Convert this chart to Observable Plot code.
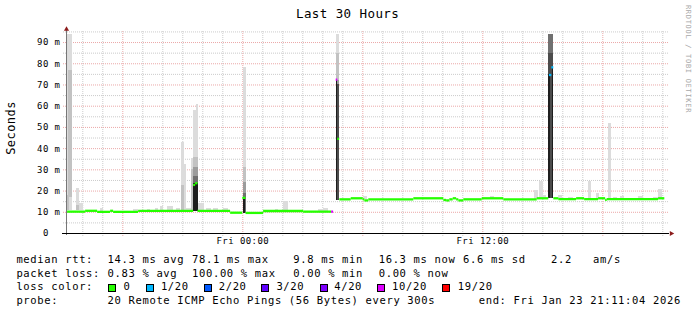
<!DOCTYPE html>
<html>
<head>
<meta charset="utf-8">
<script src="https://cdn.jsdelivr.net/npm/d3@7"></script>
<script src="https://cdn.jsdelivr.net/npm/@observablehq/plot@0.6"></script>
<style>
html, body { margin:0; padding:0; background:#fff; }
#wrap { width:697px; height:315px; overflow:hidden; background:#fff; }
#plot svg, #legend svg { display:block; }
#plot svg text { letter-spacing:0.45px; }
</style>
</head>
<body>
<div id="wrap"><div id="plot"></div><div id="legend"></div></div>
<script>
// ---------- texts ----------
const title = "Last 30 Hours";
const yAxisTitle = "Seconds";
const watermark = "RRDTOOL / TOBI OETIKER";

// ---------- time axis (hours since Thu 22 Jan 2026 00:00) ----------
const day0 = Date.UTC(2026, 0, 22);
const startHour = 15 + 11/60 + 4/3600;   // Thu 15:11:04
const endHour = 45 + 11/60 + 4/3600;     // Fri 21:11:04
const xLabelHours = [24, 36];
const xTickLabels = ["Fri 00:00", "Fri 12:00"];

// ---------- value axis (ms) ----------
const yLabelValues = [0, 10, 20, 30, 40, 50, 60, 70, 80, 90];
const yTickLabels = ["0\u00a0\u00a0", "10 m", "20 m", "30 m", "40 m", "50 m", "60 m", "70 m", "80 m", "90 m"];
const yMajor = [10, 20, 30, 40, 50, 60, 70, 80, 90];
const yMinor = [5, 15, 25, 35, 45, 55, 65, 75, 85, 95];

// ---------- loss colours ----------
const lossLabels = ["0", "1/20", "2/20", "3/20", "4/20", "10/20", "19/20"];
const lossColors = ["#26ff00", "#00b8ff", "#0059ff", "#5e00ff", "#7e00ff", "#dd00ff", "#ff0000"];

// ---------- median rtt (start hour, end hour, ms, loss index) ----------
const medStart = [15.24,16.14,16.74,17.39,17.54,18.79,21.54,21.64,21.76,23.39,24.00,24.16,25.04,27.04,28.44,
                  28.67,28.75,28.85,29.42,30.02,30.10,30.30,32.55,34.05,34.19,34.35,34.52,34.69,34.80,35.05,35.97,37.05,38.72,
                  39.33,39.45,
                  39.55,39.80,40.69,41.09,41.79,42.14,42.22,44.79];
const medEnd   = [16.14,16.74,17.39,17.54,18.79,21.54,21.64,21.76,23.39,24.00,24.16,25.04,27.04,28.44,28.54,
                  28.75,28.84,29.42,30.02,30.10,30.30,32.55,34.05,34.19,34.35,34.52,34.69,34.80,35.05,35.97,37.05,38.72,39.30,
                  39.45,39.55,
                  39.80,40.69,41.09,41.79,42.14,42.22,44.79,45.10];
const medValue = [10.3,10.7,10.2,10.7,10.2,10.7,22.9,23.7,10.7,9.8,16.8,9.7,10.6,10.3,10.3,
                  72.5,44.6,16.1,16.6,16.1,15.6,16.1,16.6,15.8,15.6,16.1,16.6,16.1,15.6,16.1,16.6,16.1,16.6,
                  74.7,78.3,
                  16.6,16.2,16.6,16.2,16.6,15.8,16.2,16.6];
const medLoss  = [0,0,0,0,0,0,0,0,0,0,0,0,0,0,5,
                  5,0,0,0,0,0,0,0,0,0,0,0,0,0,0,0,0,0,
                  1,1,
                  0,0,0,0,0,0,0,0];

// ---------- smoke (start hour, end hour, low ms, high ms, shade index) ----------
const smokeShades = ["#dcdcdc", "#c2c2c2", "#9c9c9c", "#707070", "#4c4c4c", "#1e1e1e"];
const smokeThuAfternoon = [
  [15.235,15.46,10.8,94,0],[15.285,15.46,17,76.8,1],[15.235,15.35,10.8,18,1],
  [15.685,15.85,10.8,21,0],[15.685,15.85,10.8,13.2,1],[15.85,16.02,10.8,14.3,0],
  [16.885,17.035,10.5,11.6,0],[18.535,18.785,10.5,11.4,0],[19.235,19.385,10.5,11.5,0],
  [19.635,19.785,10.5,12,0],[19.885,20.035,10.5,12.7,0],[20.235,20.535,10.5,12.6,0],[20.685,20.885,10.5,11.8,0]
];
const smokeThuEvening = [
  [20.935,21.085,10.5,43,0],[20.935,21.085,10.5,22.6,1],[21.085,21.185,10.5,32.4,0],[21.185,21.42,10.5,11.8,0],
  [21.42,21.55,10.5,35.2,0],[21.42,21.55,10.5,30,1],[21.55,21.67,10.5,58,0],[21.67,21.8,10.5,60.8,0],
  [21.55,21.8,10.5,36,1],[21.55,21.8,10.5,31.2,2],[21.55,21.8,10.5,27,3],[21.55,21.8,10.5,23.4,5],
  [21.8,22.085,10.5,14,0],[22.185,22.435,10.5,12,0],[22.535,22.785,10.5,11.7,0],[23.035,23.285,10.5,11.6,0]
];
const smokeFriMorning = [
  [24.01,24.16,9.5,78.4,0],[24.01,24.16,9.5,31,1],[24.01,24.16,9.5,24,2],[24.01,24.16,9.5,19,3],[24.01,24.11,9.3,16.5,5],
  [25.635,25.785,10.5,11.5,0],[26.05,26.3,10.5,15,0],[27.785,28.035,10.2,11.5,0],[28.035,28.285,10.2,12,0],
  [28.67,28.835,15.5,94,0],[28.67,28.835,15.5,85,1],[28.67,28.835,15.5,72,2],[28.75,28.835,15.5,70,4],[28.67,28.75,15.5,72,5],
  [30.045,30.22,16,17.4,0]
];
const smokeFriAfternoon = [
  [36.385,36.585,16,17.5,0],[38.585,38.77,16,20.2,0],[38.835,39.02,16,24.4,0],[39.02,39.185,16,17.9,0],
  [39.3,39.55,16.3,94,3],[39.3,39.55,16.3,85,4],[39.3,39.37,16.3,74.7,5],[39.48,39.55,16.3,78.3,5],
  [39.785,39.97,16,17.9,0],[40.285,40.535,16,17.2,0],[40.785,40.985,16,17.2,0],[41.27,41.435,16,24.5,0],
  [41.685,41.835,16,18.7,0],[42.27,42.435,16,51.8,0],[42.535,42.72,16,17,0],[42.885,43.085,16,17.4,0],
  [43.785,44.035,16,17.4,0],[44.535,44.785,16,17.2,0],[44.8,44.97,16,20.7,0]
];

// ---------- legend texts ----------
const rowHeads = ["median rtt:", "packet loss:", "loss color:", "probe:"];
const rttItems = ["14.3 ms avg", "78.1 ms max", "9.8 ms min", "16.3 ms now", "6.6 ms sd", "2.2", "am/s"];
const lossItems = ["0.83 % avg", "100.00 % max", "0.00 % min", "0.00 % now"];
const probeItems = ["20 Remote ICMP Echo Pings (56 Bytes) every 300s", "end: Fri Jan 23 21:11:04 2026"];

// ---------- build ----------
const H = 3600e3;
const t = h => new Date(day0 + h * H);
const hourTicks = d3.range(16, 46);
const majorHours = hourTicks.filter(h => h % 6 === 0);
const minorHours = hourTicks.filter(h => h % 6 !== 0);
const smokeRows = [...smokeThuAfternoon, ...smokeThuEvening, ...smokeFriMorning, ...smokeFriAfternoon]
  .map(([a, b, lo, hi, s]) => ({t1: t(a), t2: t(b), lo, hi, fill: smokeShades[s]}));
const medRows = medStart.map((s, i) => ({t1: t(s), t2: t(medEnd[i]), v: medValue[i], c: lossColors[medLoss[i]]}));

const fontFam = "'DejaVu Sans Mono', monospace";
const minorGrid = "#cbcbcb", majorGrid = "#eba8a8", arrowCol = "#8c1c1c";

const chart = Plot.plot({
  width: 697, height: 250,
  marginLeft: 66, marginRight: 31, marginTop: 31, marginBottom: 17,
  x: {type: "utc", domain: [t(startHour), t(endHour)], axis: null},
  y: {domain: [0, 95.2], axis: null},
  color: {type: "identity"},
  style: {fontFamily: fontFam, background: "#fff", overflow: "visible", color: "#000"},
  marks: [
    Plot.gridX(minorHours.map(t), {stroke: minorGrid, strokeOpacity: 1, strokeDasharray: "1,1", insetBottom: -3}),
    Plot.gridY(yMinor, {stroke: minorGrid, strokeOpacity: 1, strokeDasharray: "1,1", insetLeft: -3, insetRight: -2}),
    Plot.gridX(majorHours.map(t), {stroke: majorGrid, strokeOpacity: 1, strokeDasharray: "1,1", insetBottom: -3}),
    Plot.gridY(yMajor, {stroke: majorGrid, strokeOpacity: 1, strokeDasharray: "1,1", insetLeft: -3, insetRight: -2}),
    Plot.rect(smokeRows, {x1: "t1", x2: "t2", y1: "lo", y2: "hi", fill: "fill", shapeRendering: "crispEdges"}),
    Plot.ruleY(medRows, {y: "v", x1: "t1", x2: "t2", stroke: "c", strokeWidth: 2.3}),
    Plot.ruleX([t(startHour)], {stroke: "#777", insetTop: -3, insetBottom: -2}),
    Plot.ruleY([0], {stroke: "#000", insetLeft: -4, insetRight: -3}),
    Plot.dot([0], {x: () => t(startHour), y: () => 95.2, symbol: "triangle", r: 1.9, fill: arrowCol, stroke: "none", dy: -2.2}),
    Plot.dot([0], {x: () => t(endHour), y: () => 0, symbol: "triangle", r: 1.9, fill: arrowCol, stroke: "none", dx: 4.8, rotate: 90}),
    Plot.text(yLabelValues, {y: d => d, frameAnchor: "left", dx: -6, textAnchor: "end", text: (d, i) => yTickLabels[i], fontSize: 9, fill: "#000"}),
    Plot.text(xLabelHours, {x: h => t(h), frameAnchor: "bottom", lineAnchor: "top", dy: 4, text: (d, i) => xTickLabels[i], fontSize: 9, fill: "#000"})
  ]
});
document.getElementById("plot").appendChild(chart);

const svg = d3.select(chart);
svg.append("text").attr("x", 347.6).attr("y", 18.3).attr("text-anchor", "middle")
  .style("font-family", fontFam).style("font-size", "12.5px").style("letter-spacing", "0.42px").attr("fill", "#000").text(title);
svg.append("text").attr("transform", "translate(15,128) rotate(-90)").attr("text-anchor", "middle")
  .style("font-family", fontFam).style("font-size", "12px").style("letter-spacing", "0.45px").attr("fill", "#000").text(yAxisTitle);
svg.append("text").attr("transform", "translate(685.5,59) rotate(90)").attr("text-anchor", "middle")
  .style("font-family", fontFam).style("font-size", "7px").style("letter-spacing", "0.7px").attr("fill", "#a8a8a8").text(watermark);

// ---------- legend ----------
const lg = d3.select("#legend").append("svg").attr("width", 697).attr("height", 65)
  .style("font-family", fontFam).style("font-size", "10.5px").style("letter-spacing", "0.65px");
const rowY = [13.3, 26.9, 40.4, 54];
const col0 = 16.4;
const rttX = [107.6, 192, 293.3, 378.7, 463, 551, 593];
const lossX = [107.6, 192, 293.3, 378.7];
const boxX = [108.4, 145.8, 203.6, 261.3, 320, 376.9, 442.2];
const boxLabelX = [123.6, 160.9, 218.7, 276.4, 334.2, 392, 457.8];
const probeX = [107.6, 478.7];
const txt = (x, y, s) => lg.append("text").attr("x", x).attr("y", y).attr("fill", "#000").text(s);
rowHeads.forEach((s, i) => txt(col0, rowY[i], s));
rttItems.forEach((s, i) => txt(rttX[i], rowY[0], s));
lossItems.forEach((s, i) => txt(lossX[i], rowY[1], s));
lossLabels.forEach((s, i) => {
  lg.append("rect").attr("x", Math.round(boxX[i]) + 0.5).attr("y", 34.5).attr("width", 7).attr("height", 7)
    .attr("fill", lossColors[i]).attr("stroke", "#000").attr("stroke-width", 1);
  txt(boxLabelX[i], rowY[2], s);
});
probeItems.forEach((s, i) => txt(probeX[i], rowY[3], s));
</script>
</body>
</html>
